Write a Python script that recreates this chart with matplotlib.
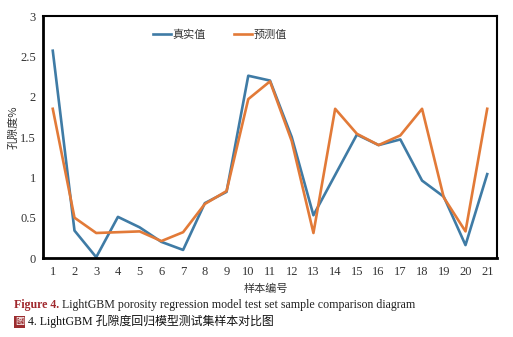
#!/usr/bin/env python3

"""LightGBM porosity: true vs predicted on the test set"""

import matplotlib
matplotlib.use("Agg")
import matplotlib.pyplot as plt

samples = list(range(1, 22))
true_vals = [2.57, 0.34, 0.01, 0.51, 0.38, 0.20, 0.10, 0.68, 0.82, 2.26, 2.20,
             1.50, 0.53, 1.03, 1.53, 1.40, 1.47, 0.96, 0.76, 0.16, 1.04]
pred_vals = [1.85, 0.50, 0.31, 0.32, 0.33, 0.21, 0.32, 0.67, 0.83, 1.97, 2.19,
             1.45, 0.31, 1.85, 1.54, 1.40, 1.52, 1.85, 0.75, 0.33, 1.85]
series_names = ["真实值", "预测值"]
yticks = [0, 0.5, 1, 1.5, 2, 2.5, 3]

cjk = ["Noto Sans CJK SC", "DejaVu Sans"]
serif = ["Liberation Serif", "Noto Sans CJK SC"]

fig = plt.figure(figsize=(5.13, 3.37), dpi=100)
ax = fig.add_axes([0.0838, 0.2344, 0.885, 0.718])

ax.plot(samples, true_vals, color="#3f7ba5", lw=1.9, label=series_names[0])
ax.plot(samples, pred_vals, color="#e27a38", lw=1.9, label=series_names[1])

ax.set_xlim(0.55, 21.45)
ax.set_ylim(0, 3)
ax.set_xticks(samples)
ax.set_yticks(yticks)
ax.set_yticklabels([f"{t:g}" for t in yticks], family=serif, fontsize=9)
ax.set_xticklabels([str(s) for s in samples], family=serif, fontsize=9)
ax.tick_params(length=0, colors="#333333")
ax.tick_params(axis="y", pad=5)
ax.tick_params(axis="x", pad=6)

for side in ["left", "bottom"]:
    ax.spines[side].set_linewidth(2.0)
for side in ["top", "right"]:
    ax.spines[side].set_linewidth(1.5)

ax.set_ylabel("孔隙度%", family=cjk, fontsize=8, color="#333333")
ax.yaxis.set_label_coords(-0.054, 0.54)
ax.set_xlabel("样本编号", family=cjk, fontsize=8, color="#333333")
ax.xaxis.set_label_coords(0.49, -0.105)

leg = ax.legend(loc="upper center", bbox_to_anchor=(0.39, 0.985), ncol=2,
                frameon=False, prop={"family": cjk, "size": 8},
                handlelength=1.6, handletextpad=0.1, columnspacing=2.6)
for t in leg.get_texts():
    t.set_color("#333333")

# figure caption
fig.text(0.027, 0.095, "Figure 4.", color="#a0282d", fontweight="bold",
         family=serif, fontsize=8.6, va="center")
fig.text(0.121, 0.095, "LightGBM porosity regression model test set sample comparison diagram",
         family=serif, fontsize=8.6, color="#222222", va="center")
fig.text(0.029, 0.045, "图", family=cjk, fontsize=6.5, color="white", va="center",
         bbox=dict(boxstyle="square,pad=0.15", fc="#9b2d2f", ec="none"))
fig.text(0.055, 0.045, "4. LightGBM 孔隙度回归模型测试集样本对比图",
         family=["Liberation Serif", "Noto Sans CJK SC"], fontsize=8.6,
         color="#111111", va="center")

fig.savefig("out.png", dpi=100)
